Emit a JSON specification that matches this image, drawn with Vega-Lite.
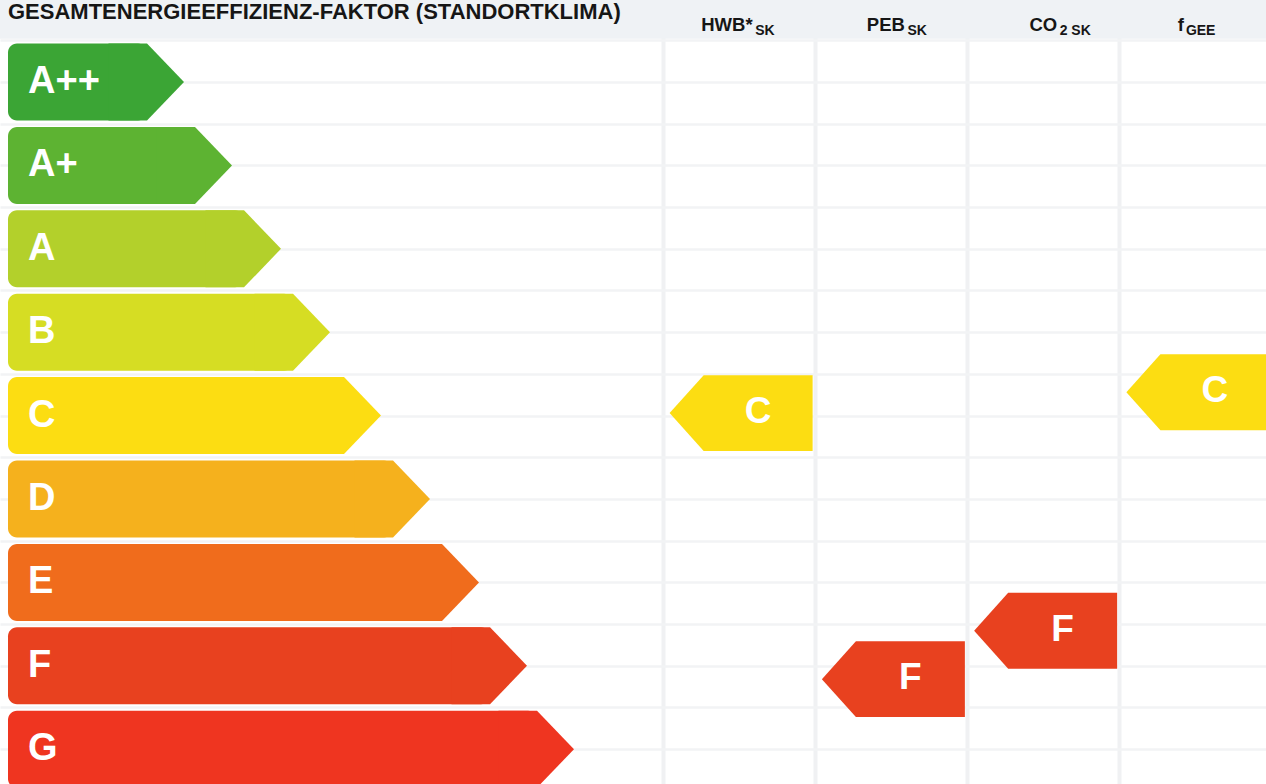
{
  "$schema": "https://vega.github.io/schema/vega-lite/v6.json",
  "width": 1266,
  "height": 784,
  "autosize": {"type": "none"},
  "padding": 0,
  "background": "#ffffff",
  "config": {"view": {"stroke": null}, "font": "Liberation Sans"},
  "datasets": {
    "klassen": [
      {"klasse": "A++", "stufe": 0, "laenge": 139},
      {"klasse": "A+", "stufe": 1, "laenge": 187},
      {"klasse": "A", "stufe": 2, "laenge": 236},
      {"klasse": "B", "stufe": 3, "laenge": 285},
      {"klasse": "C", "stufe": 4, "laenge": 336},
      {"klasse": "D", "stufe": 5, "laenge": 385},
      {"klasse": "E", "stufe": 6, "laenge": 434},
      {"klasse": "F", "stufe": 7, "laenge": 482},
      {"klasse": "G", "stufe": 8, "laenge": 529}
    ],
    "indikatoren": [
      {"indikator": "HWB*SK", "klasse": "C", "stufe": 3.97},
      {"indikator": "PEBSK", "klasse": "F", "stufe": 7.16},
      {"indikator": "CO2SK", "klasse": "F", "stufe": 6.58},
      {"indikator": "fGEE", "klasse": "C", "stufe": 3.72}
    ],
    "spalten": [
      {"indikator": "HWB*SK", "name": "HWB*", "index": "SK"},
      {"indikator": "PEBSK", "name": "PEB", "index": "SK"},
      {"indikator": "CO2SK", "name": "CO", "index": "2 SK"},
      {"indikator": "fGEE", "name": "f", "index": "GEE"}
    ]
  },
  "layer": [
    {
      "layer": [
        {
          "data": {"values": [{"bereich": "Kopfzeile"}]},
          "mark": {"type": "rect", "color": "#eff2f5", "clip": true},
          "encoding": {
            "x": {"datum": -8, "scale": {"domain": [-8, 1258], "nice": false, "zero": false, "padding": 0}, "axis": null, "title": null},
            "x2": {"datum": 1258},
            "y": {"datum": -0.9832, "scale": {"domain": [-0.9832, 8.4173], "reverse": true, "nice": false, "zero": false, "padding": 0}, "axis": {"values": [-0.5, 0, 0.5, 1, 1.5, 2, 2.5, 3, 3.5, 4, 4.5, 5, 5.5, 6, 6.5, 7, 7.5, 8], "grid": true, "gridColor": "#f2f3f5", "gridWidth": 2.5, "labels": false, "ticks": false, "domain": false, "title": null}},
            "y2": {"datum": -0.52}
          }
        },
        {
          "data": {"values": [{"titel": "GESAMTENERGIEEFFIZIENZ-FAKTOR (STANDORTKLIMA)"}]},
          "mark": {"type": "text", "align": "left", "baseline": "alphabetic", "fontSize": 22, "fontWeight": "bold", "color": "#161616"},
          "encoding": {
            "text": {"field": "titel"},
            "x": {"datum": 0, "scale": {"domain": [-8, 1258], "nice": false, "zero": false, "padding": 0}, "axis": null, "title": null},
            "y": {"datum": -0.755, "scale": {"domain": [-0.9832, 8.4173], "reverse": true, "nice": false, "zero": false, "padding": 0}, "axis": {"values": [-0.5, 0, 0.5, 1, 1.5, 2, 2.5, 3, 3.5, 4, 4.5, 5, 5.5, 6, 6.5, 7, 7.5, 8], "grid": true, "gridColor": "#f2f3f5", "gridWidth": 2.5, "labels": false, "ticks": false, "domain": false, "title": null}}
          }
        },
        {
          "data": {"name": "klassen"},
          "mark": {"type": "bar", "orient": "horizontal", "height": 77, "cornerRadius": 9, "clip": true},
          "encoding": {
            "x": {"field": "laenge", "type": "quantitative", "scale": {"domain": [-8, 1258], "nice": false, "zero": false, "padding": 0}, "axis": null, "title": null},
            "x2": {"datum": 0},
            "y": {"field": "stufe", "type": "quantitative", "scale": {"domain": [-0.9832, 8.4173], "reverse": true, "nice": false, "zero": false, "padding": 0}, "axis": {"values": [-0.5, 0, 0.5, 1, 1.5, 2, 2.5, 3, 3.5, 4, 4.5, 5, 5.5, 6, 6.5, 7, 7.5, 8], "grid": true, "gridColor": "#f2f3f5", "gridWidth": 2.5, "labels": false, "ticks": false, "domain": false, "title": null}},
            "color": {"field": "klasse", "type": "nominal", "legend": null, "scale": {"domain": ["A++", "A+", "A", "B", "C", "D", "E", "F", "G"], "range": ["#3ba535", "#5db332", "#b3d02b", "#d6dd23", "#fcdd12", "#f5b11d", "#f06c1c", "#e8411f", "#ef3520"]}}
          }
        },
        {
          "data": {"name": "klassen"},
          "mark": {"type": "point", "shape": "M -1 -1 L 0 -1 L 0.961 0 L 0 1 L -1 1 Z", "size": 5929, "filled": true, "opacity": 1, "strokeWidth": 0, "clip": true},
          "encoding": {
            "x": {"field": "laenge", "type": "quantitative", "scale": {"domain": [-8, 1258], "nice": false, "zero": false, "padding": 0}, "axis": null, "title": null},
            "y": {"field": "stufe", "type": "quantitative", "scale": {"domain": [-0.9832, 8.4173], "reverse": true, "nice": false, "zero": false, "padding": 0}, "axis": {"values": [-0.5, 0, 0.5, 1, 1.5, 2, 2.5, 3, 3.5, 4, 4.5, 5, 5.5, 6, 6.5, 7, 7.5, 8], "grid": true, "gridColor": "#f2f3f5", "gridWidth": 2.5, "labels": false, "ticks": false, "domain": false, "title": null}},
            "color": {"field": "klasse", "type": "nominal", "legend": null, "scale": {"domain": ["A++", "A+", "A", "B", "C", "D", "E", "F", "G"], "range": ["#3ba535", "#5db332", "#b3d02b", "#d6dd23", "#fcdd12", "#f5b11d", "#f06c1c", "#e8411f", "#ef3520"]}}
          }
        },
        {
          "data": {"name": "klassen"},
          "mark": {"type": "text", "align": "left", "baseline": "middle", "dx": 20, "fontSize": 38, "fontWeight": "bold", "color": "#ffffff", "clip": true},
          "encoding": {
            "text": {"field": "klasse"},
            "x": {"datum": 0, "scale": {"domain": [-8, 1258], "nice": false, "zero": false, "padding": 0}, "axis": null, "title": null},
            "y": {"field": "stufe", "type": "quantitative", "scale": {"domain": [-0.9832, 8.4173], "reverse": true, "nice": false, "zero": false, "padding": 0}, "axis": {"values": [-0.5, 0, 0.5, 1, 1.5, 2, 2.5, 3, 3.5, 4, 4.5, 5, 5.5, 6, 6.5, 7, 7.5, 8], "grid": true, "gridColor": "#f2f3f5", "gridWidth": 2.5, "labels": false, "ticks": false, "domain": false, "title": null}}
          }
        }
      ]
    },
    {
      "layer": [
        {
          "data": {"name": "indikatoren"},
          "mark": {"type": "point", "shape": "M -1 0 L -0.524 -0.531 L 1 -0.531 L 1 0.531 L -0.524 0.531 Z", "size": 20449, "filled": true, "opacity": 1, "strokeWidth": 0, "xOffset": 2, "clip": true},
          "encoding": {
            "x": {"field": "indikator", "type": "nominal", "scale": {"type": "band", "domain": ["HWB*SK", "PEBSK", "CO2SK", "fGEE"], "range": [663, 1272], "paddingInner": 0, "paddingOuter": 0}, "axis": {"grid": true, "bandPosition": 0, "gridColor": "#f0f1f3", "gridWidth": 4, "labels": false, "ticks": false, "domain": false, "title": null}},
            "y": {"field": "stufe", "type": "quantitative", "scale": {"domain": [-0.9832, 8.4173], "reverse": true, "nice": false, "zero": false, "padding": 0}, "axis": {"values": [-0.5, 0, 0.5, 1, 1.5, 2, 2.5, 3, 3.5, 4, 4.5, 5, 5.5, 6, 6.5, 7, 7.5, 8], "grid": true, "gridColor": "#f2f3f5", "gridWidth": 2.5, "labels": false, "ticks": false, "domain": false, "title": null}},
            "color": {"field": "klasse", "type": "nominal", "legend": null, "scale": {"domain": ["A++", "A+", "A", "B", "C", "D", "E", "F", "G"], "range": ["#3ba535", "#5db332", "#b3d02b", "#d6dd23", "#fcdd12", "#f5b11d", "#f06c1c", "#e8411f", "#ef3520"]}}
          }
        },
        {
          "data": {"name": "indikatoren"},
          "mark": {"type": "text", "align": "center", "baseline": "middle", "dx": 19, "dy": -1, "fontSize": 37, "fontWeight": "bold", "color": "#ffffff"},
          "encoding": {
            "text": {"field": "klasse"},
            "x": {"field": "indikator", "type": "nominal", "scale": {"type": "band", "domain": ["HWB*SK", "PEBSK", "CO2SK", "fGEE"], "range": [663, 1272], "paddingInner": 0, "paddingOuter": 0}, "axis": {"grid": true, "bandPosition": 0, "gridColor": "#f0f1f3", "gridWidth": 4, "labels": false, "ticks": false, "domain": false, "title": null}},
            "y": {"field": "stufe", "type": "quantitative", "scale": {"domain": [-0.9832, 8.4173], "reverse": true, "nice": false, "zero": false, "padding": 0}, "axis": {"values": [-0.5, 0, 0.5, 1, 1.5, 2, 2.5, 3, 3.5, 4, 4.5, 5, 5.5, 6, 6.5, 7, 7.5, 8], "grid": true, "gridColor": "#f2f3f5", "gridWidth": 2.5, "labels": false, "ticks": false, "domain": false, "title": null}}
          }
        },
        {
          "data": {"name": "spalten"},
          "transform": [{"filter": "datum.indikator != 'fGEE'"}],
          "mark": {"type": "text", "align": "right", "baseline": "alphabetic", "dx": 13.5, "fontSize": 18.5, "fontWeight": "bold", "color": "#161616"},
          "encoding": {
            "text": {"field": "name"},
            "x": {"field": "indikator", "type": "nominal", "scale": {"type": "band", "domain": ["HWB*SK", "PEBSK", "CO2SK", "fGEE"], "range": [663, 1272], "paddingInner": 0, "paddingOuter": 0}, "axis": {"grid": true, "bandPosition": 0, "gridColor": "#f0f1f3", "gridWidth": 4, "labels": false, "ticks": false, "domain": false, "title": null}},
            "y": {"datum": -0.61, "scale": {"domain": [-0.9832, 8.4173], "reverse": true, "nice": false, "zero": false, "padding": 0}, "axis": {"values": [-0.5, 0, 0.5, 1, 1.5, 2, 2.5, 3, 3.5, 4, 4.5, 5, 5.5, 6, 6.5, 7, 7.5, 8], "grid": true, "gridColor": "#f2f3f5", "gridWidth": 2.5, "labels": false, "ticks": false, "domain": false, "title": null}}
          }
        },
        {
          "data": {"name": "spalten"},
          "transform": [{"filter": "datum.indikator != 'fGEE'"}],
          "mark": {"type": "text", "align": "left", "baseline": "alphabetic", "dx": 16, "fontSize": 14, "fontWeight": "bold", "color": "#161616"},
          "encoding": {
            "text": {"field": "index"},
            "x": {"field": "indikator", "type": "nominal", "scale": {"type": "band", "domain": ["HWB*SK", "PEBSK", "CO2SK", "fGEE"], "range": [663, 1272], "paddingInner": 0, "paddingOuter": 0}, "axis": {"grid": true, "bandPosition": 0, "gridColor": "#f0f1f3", "gridWidth": 4, "labels": false, "ticks": false, "domain": false, "title": null}},
            "y": {"datum": -0.56, "scale": {"domain": [-0.9832, 8.4173], "reverse": true, "nice": false, "zero": false, "padding": 0}, "axis": {"values": [-0.5, 0, 0.5, 1, 1.5, 2, 2.5, 3, 3.5, 4, 4.5, 5, 5.5, 6, 6.5, 7, 7.5, 8], "grid": true, "gridColor": "#f2f3f5", "gridWidth": 2.5, "labels": false, "ticks": false, "domain": false, "title": null}}
          }
        },
        {
          "data": {"name": "spalten"},
          "transform": [{"filter": "datum.indikator == 'fGEE'"}],
          "mark": {"type": "text", "align": "right", "baseline": "alphabetic", "dx": -12, "fontSize": 18.5, "fontWeight": "bold", "color": "#161616"},
          "encoding": {
            "text": {"field": "name"},
            "x": {"field": "indikator", "type": "nominal", "scale": {"type": "band", "domain": ["HWB*SK", "PEBSK", "CO2SK", "fGEE"], "range": [663, 1272], "paddingInner": 0, "paddingOuter": 0}, "axis": {"grid": true, "bandPosition": 0, "gridColor": "#f0f1f3", "gridWidth": 4, "labels": false, "ticks": false, "domain": false, "title": null}},
            "y": {"datum": -0.61, "scale": {"domain": [-0.9832, 8.4173], "reverse": true, "nice": false, "zero": false, "padding": 0}, "axis": {"values": [-0.5, 0, 0.5, 1, 1.5, 2, 2.5, 3, 3.5, 4, 4.5, 5, 5.5, 6, 6.5, 7, 7.5, 8], "grid": true, "gridColor": "#f2f3f5", "gridWidth": 2.5, "labels": false, "ticks": false, "domain": false, "title": null}}
          }
        },
        {
          "data": {"name": "spalten"},
          "transform": [{"filter": "datum.indikator == 'fGEE'"}],
          "mark": {"type": "text", "align": "left", "baseline": "alphabetic", "dx": -10, "fontSize": 14, "fontWeight": "bold", "color": "#161616"},
          "encoding": {
            "text": {"field": "index"},
            "x": {"field": "indikator", "type": "nominal", "scale": {"type": "band", "domain": ["HWB*SK", "PEBSK", "CO2SK", "fGEE"], "range": [663, 1272], "paddingInner": 0, "paddingOuter": 0}, "axis": {"grid": true, "bandPosition": 0, "gridColor": "#f0f1f3", "gridWidth": 4, "labels": false, "ticks": false, "domain": false, "title": null}},
            "y": {"datum": -0.56, "scale": {"domain": [-0.9832, 8.4173], "reverse": true, "nice": false, "zero": false, "padding": 0}, "axis": {"values": [-0.5, 0, 0.5, 1, 1.5, 2, 2.5, 3, 3.5, 4, 4.5, 5, 5.5, 6, 6.5, 7, 7.5, 8], "grid": true, "gridColor": "#f2f3f5", "gridWidth": 2.5, "labels": false, "ticks": false, "domain": false, "title": null}}
          }
        }
      ]
    }
  ],
  "resolve": {"scale": {"x": "independent"}}
}
